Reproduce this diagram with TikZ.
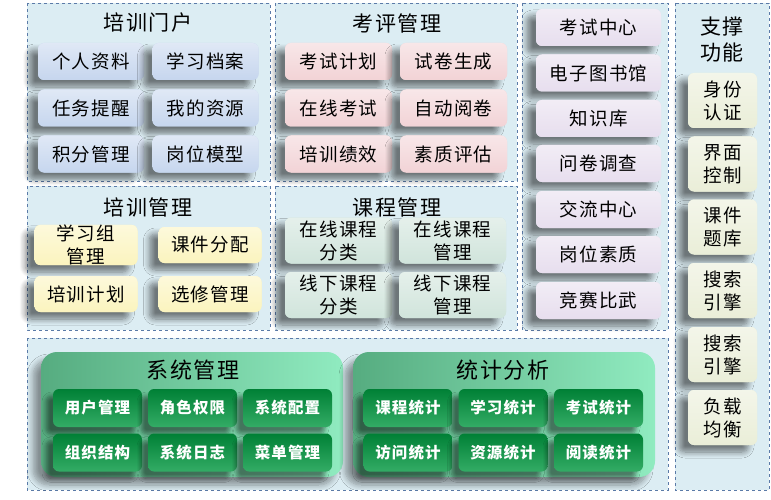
\documentclass[tikz,border=0pt]{standalone}
\usepackage{fontspec}
\setmainfont{Noto Sans CJK SC}
\newfontfamily\spaced[LetterSpace=7]{Noto Sans CJK SC}
\usetikzlibrary{shadows.blur}

\definecolor{panelfill}{HTML}{DCEDF3}
\definecolor{paneledge}{HTML}{5B7BA8}
\definecolor{portalfill}{HTML}{C6D6EE}
\definecolor{examfill}{HTML}{F2D3D6}
\definecolor{trainfill}{HTML}{FBF4BE}
\definecolor{coursefill}{HTML}{D0E4DB}
\definecolor{centerfill}{HTML}{E7DEEE}
\definecolor{supportfill}{HTML}{EAEED8}
\definecolor{grpleft}{HTML}{56AC80}
\definecolor{grpright}{HTML}{90EBC0}
\definecolor{itemgreen}{HTML}{00973F}

\tikzset{
  panel/.style={draw=paneledge, dashed, fill=panelfill, line width=0.8pt},
  title/.style={font=\spaced\fontsize{21}{26}\selectfont, align=center},
  itembox/.style={rounded corners=6pt, fill=#1, align=center,
    font=\spaced\fontsize{18.5}{23}\selectfont, inner sep=0pt,
    top color=white!45!#1, bottom color=#1,
    blur shadow={shadow xshift=-9pt, shadow yshift=-7pt, shadow blur steps=8,
      shadow blur radius=6pt, shadow opacity=50}},
  greenbox/.style={rounded corners=6pt, inner sep=0pt, text=white,
    font=\spaced\fontsize{15.5}{19}\selectfont\bfseries,
    top color=itemgreen!85!black, bottom color=itemgreen!80!white,
    minimum width=89pt, minimum height=38pt,
    blur shadow={shadow xshift=-7pt, shadow yshift=-7pt, shadow blur steps=6,
      shadow blur radius=4pt, shadow opacity=45}},
  group/.style={rounded corners=16pt, left color=grpleft, right color=grpright,
    blur shadow={shadow xshift=-8pt, shadow yshift=-8pt, shadow blur steps=8,
      shadow blur radius=6pt, shadow opacity=40}},
}

\begin{document}
\begin{tikzpicture}[x=1pt, y=1pt]
\useasboundingbox (0,0) rectangle (771,-500);

% panels
\draw[panel] (27,-3) rectangle (270,-181);
\draw[panel] (275,-3) rectangle (517,-181);
\draw[panel] (27,-186) rectangle (270,-330);
\draw[panel] (275,-186) rectangle (517,-330);
\draw[panel] (522,-3) rectangle (668,-330);
\draw[panel] (675,-3) rectangle (769,-490);
\draw[panel] (27,-338) rectangle (668,-490);

% 培训门户
\node[title] (portal) at (148,-23) {培训门户};
\foreach \name/\x/\y/\txt in {pa/91/61.5/个人资料, pb/205.5/61.5/学习档案,
    pc/91/108/任务提醒, pd/205.5/108/我的资源,
    pe/91/154/积分管理, pf/205.5/154/岗位模型}
  \node[itembox=portalfill, minimum width=106pt, minimum height=37pt] (\name) at (\x,-\y) {\txt};

% 考评管理
\node[title] (exam) at (397,-23) {考评管理};
\foreach \name/\x/\y/\txt in {ea/338.5/61.5/考试计划, eb/453.5/61.5/试卷生成,
    ec/338.5/108/在线考试, ed/453.5/108/自动阅卷,
    ee/338.5/154/培训绩效, ef/453.5/154/素质评估}
  \node[itembox=examfill, minimum width=107pt, minimum height=37pt] (\name) at (\x,-\y) {\txt};

% 培训管理
\node[title] (train) at (148,-207) {培训管理};
\foreach \name/\x/\y/\txt in {ta/86/245/学习组\\管理, tb/210/245/课件分配,
    tc/86/294/培训计划, td/210/294/选修管理}
  \node[itembox=trainfill, minimum width=103pt, minimum height=36pt] (\name) at (\x,-\y) {\txt};

% 课程管理
\node[title] (course) at (397,-207) {课程管理};
\foreach \name/\x/\y/\txt in {ca/338.5/240.5/在线课程\\分类, cb/452.5/240.5/在线课程\\管理,
    cc/338.5/295/线下课程\\分类, cd/452.5/295/线下课程\\管理}
  \node[itembox=coursefill, minimum width=107pt, minimum height=46pt] (\name) at (\x,-\y) {\txt};

% 中心
\foreach \name/\y/\txt in {ma/27.5/考试中心, mb/73/电子图书馆, mc/118.5/知识库,
    md/163.5/问卷调查, me/209.5/交流中心, mf/254.5/岗位素质, mg/300.5/竞赛比武}
  \node[itembox=centerfill, minimum width=125pt, minimum height=37pt] (\name) at (598.5,-\y) {\txt};

% 支撑功能
\node[title] (support) at (722,-40) {支撑\\功能};
\foreach \name/\y/\txt in {sa/100.5/身份\\认证, sb/164/界面\\控制, sc/227/课件\\题库,
    sd/290.5/搜索\\引擎, se/354.5/搜索\\引擎, sf/417.5/负载\\均衡}
  \node[itembox=supportfill, minimum width=69pt, minimum height=55pt] (\name) at (722.5,-\y) {\txt};

% 系统管理 / 统计分析
\node[group, minimum width=302pt, minimum height=125pt] (sysgrp) at (192,-414.5) {};
\node[group, minimum width=302pt, minimum height=125pt] (statgrp) at (504,-414.5) {};
\node[title, font=\spaced\fontsize{22}{26}\selectfont] (sys) at (193,-370) {系统管理};
\node[title, font=\spaced\fontsize{22}{26}\selectfont] (stat) at (503,-370) {统计分析};
\foreach \name/\x/\y/\txt in {ga/97.5/408/用户管理, gb/192.5/408/角色权限, gc/287.5/408/系统配置,
    gd/97.5/452.5/组织结构, ge/192.5/452.5/系统日志, gf/287.5/452.5/菜单管理,
    ha/408/408/课程统计, hb/503/408/学习统计, hc/598.5/408/考试统计,
    hd/408/452.5/访问统计, he/503/452.5/资源统计, hf/598.5/452.5/阅读统计}
  \node[greenbox] (\name) at (\x,-\y) {\txt};
\end{tikzpicture}
\end{document}
